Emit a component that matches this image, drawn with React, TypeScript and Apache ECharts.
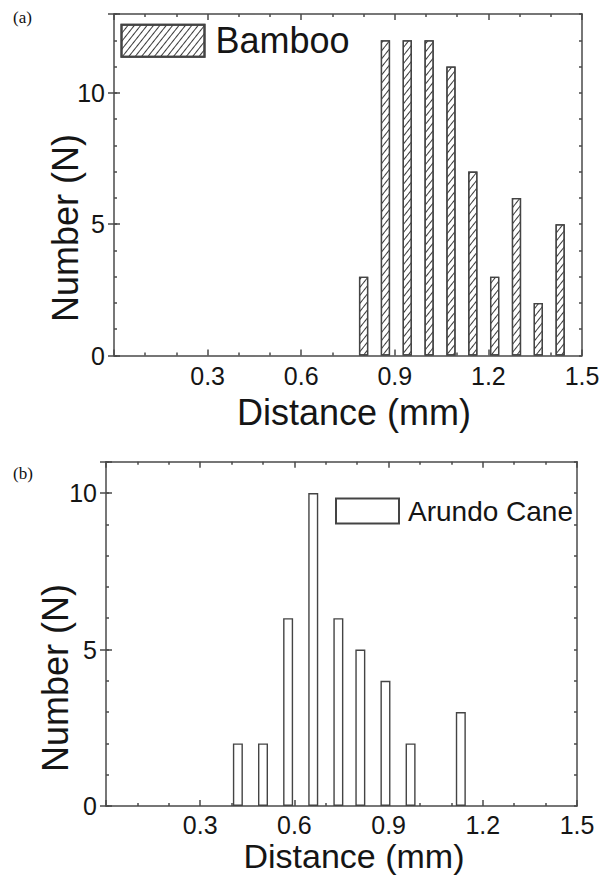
import React, { useEffect, useRef } from "react";
import * as echarts from "echarts";

// Panel (a): Bamboo
const bambooDistance = [0.8, 0.87, 0.94, 1.01, 1.08, 1.15, 1.22, 1.29, 1.36, 1.43];
const bambooCount = [3, 12, 12, 12, 11, 7, 3, 6, 2, 5];
// Panel (b): Arundo Cane
const caneDistance = [0.42, 0.5, 0.58, 0.66, 0.74, 0.81, 0.89, 0.97, 1.13];
const caneCount = [2, 2, 6, 10, 6, 5, 4, 2, 3];

const xMin = 0;
const xMax = 1.5;
const xInterval = 0.3;
const yMaxA = 13;
const yMaxB = 11;
const yMajor = 5;
const yMinor = 1;

const FONT = "'Liberation Sans', Arial, sans-serif";
const AXIS_COLOR = "#4a4a4a";
const TEXT_COLOR = "#151515";

export default function App() {
  const ref = useRef<HTMLDivElement>(null);

  useEffect(() => {
    if (!ref.current) return;
    const chart = echarts.init(ref.current, null, { renderer: "svg" });

    const grids = [
      { left: 114, top: 14, width: 468, height: 341.5 },
      { left: 106, top: 461.7, width: 471, height: 344.3 },
    ];

    const lineStyle = { color: AXIS_COLOR, width: 1.5 };

    const xAxes: any[] = [];
    const yAxes: any[] = [];
    [0, 1].forEach((g) => {
      const base = {
        type: "value",
        gridIndex: g,
        min: xMin,
        max: xMax,
        interval: xInterval,
        splitLine: { show: false },
        axisLine: { show: true, onZero: false, lineStyle },
        axisTick: { show: true, inside: true, length: 6, lineStyle },
        minorTick: { show: true, splitNumber: 3, length: 3, lineStyle },
      };
      xAxes.push({
        ...base,
        position: "bottom",
        axisLabel: {
          show: true,
          margin: g === 0 ? 8 : 6,
          fontSize: 25,
          fontFamily: FONT,
          color: TEXT_COLOR,
          formatter: (v: number) => (v === 0 ? "" : v.toFixed(1)),
        },
      });
      xAxes.push({
        ...base,
        position: "top",
        axisLabel: { show: false },
      });
      const yMax = g === 0 ? yMaxA : yMaxB;
      ["left", "right"].forEach((pos) => {
        yAxes.push({
          type: "value",
          gridIndex: g,
          position: pos,
          min: 0,
          max: yMax,
          interval: yMinor,
          splitLine: { show: false },
          axisLine: { show: true, onZero: false, lineStyle },
          axisTick: { show: true, inside: true, length: 3, lineStyle },
          axisLabel: { show: false },
        });
        yAxes.push({
          type: "value",
          gridIndex: g,
          position: pos,
          min: 0,
          max: yMax,
          interval: yMajor,
          splitLine: { show: false },
          axisLine: { show: false },
          axisTick: { show: true, inside: true, length: 6, lineStyle },
          axisLabel:
            pos === "left"
              ? {
                  show: true,
                  margin: 9,
                  fontSize: 25,
                  fontFamily: FONT,
                  color: TEXT_COLOR,
                  formatter: (v: number) => (v % yMajor === 0 ? String(v) : ""),
                }
              : { show: false },
        });
      });
    });

    const hatch = {
      symbol: "rect",
      symbolSize: 1,
      color: "#3a3a3a",
      backgroundColor: "#ffffff",
      dashArrayX: [1, 0],
      dashArrayY: [1, 3.6],
      rotation: -0.9,
    };

    const titleText = (text: string, x: number, y: number, size: number, rot = 0) => ({
      type: "text",
      x,
      y,
      rotation: rot,
      style: {
        text,
        font: `${size}px ${FONT}`,
        fill: TEXT_COLOR,
        textAlign: "center",
        textVerticalAlign: "middle",
      },
    });

    chart.setOption({
      animation: false,
      backgroundColor: "#ffffff",
      grid: grids,
      xAxis: xAxes,
      yAxis: yAxes,
      legend: [
        {
          data: ["Bamboo"],
          left: 120.5,
          top: 22.7,
          padding: 0,
          icon: "rect",
          itemWidth: 83,
          itemHeight: 32,
          textStyle: {
            fontSize: 36,
            fontFamily: FONT,
            color: TEXT_COLOR,
            padding: [0, 0, 0, 6],
          },
        },
        {
          data: ["Arundo Cane"],
          left: 335,
          top: 497,
          padding: 0,
          icon: "rect",
          itemWidth: 63,
          itemHeight: 25,
          textStyle: {
            fontSize: 28,
            fontFamily: FONT,
            color: TEXT_COLOR,
            padding: [0, 0, 0, 4],
          },
        },
      ],
      series: [
        {
          name: "Bamboo",
          type: "bar",
          xAxisIndex: 0,
          yAxisIndex: 1,
          barWidth: 9.3,
          data: bambooDistance.map((d, i) => [d, bambooCount[i]]),
          itemStyle: {
            color: "#ffffff",
            borderColor: "#444",
            borderWidth: 1.3,
            decal: hatch,
          },
        },
        {
          name: "Arundo Cane",
          type: "bar",
          xAxisIndex: 2,
          yAxisIndex: 5,
          barWidth: 10,
          data: caneDistance.map((d, i) => [d, caneCount[i]]),
          itemStyle: {
            color: "#ffffff",
            borderColor: "#444",
            borderWidth: 1.4,
          },
        },
      ],
      graphic: [
        {
          type: "text",
          x: 13,
          y: 17,
          style: {
            text: "(a)",
            font: "17px 'Liberation Serif', 'Times New Roman', serif",
            fill: "#111",
            textAlign: "left",
            textVerticalAlign: "middle",
          },
        },
        {
          type: "text",
          x: 13,
          y: 473,
          style: {
            text: "(b)",
            font: "17px 'Liberation Serif', 'Times New Roman', serif",
            fill: "#111",
            textAlign: "left",
            textVerticalAlign: "middle",
          },
        },
        titleText("Number (N)", 65, 228, 36, Math.PI / 2),
        titleText("Number (N)", 55, 678, 36, Math.PI / 2),
        titleText("Distance (mm)", 354, 412, 36),
        titleText("Distance (mm)", 354, 856, 34),
      ],
    });

    return () => chart.dispose();
  }, []);

  return (
    <div
      ref={ref}
      style={{ position: "absolute", left: 0, top: 0, width: 608, height: 875 }}
    />
  );
}
